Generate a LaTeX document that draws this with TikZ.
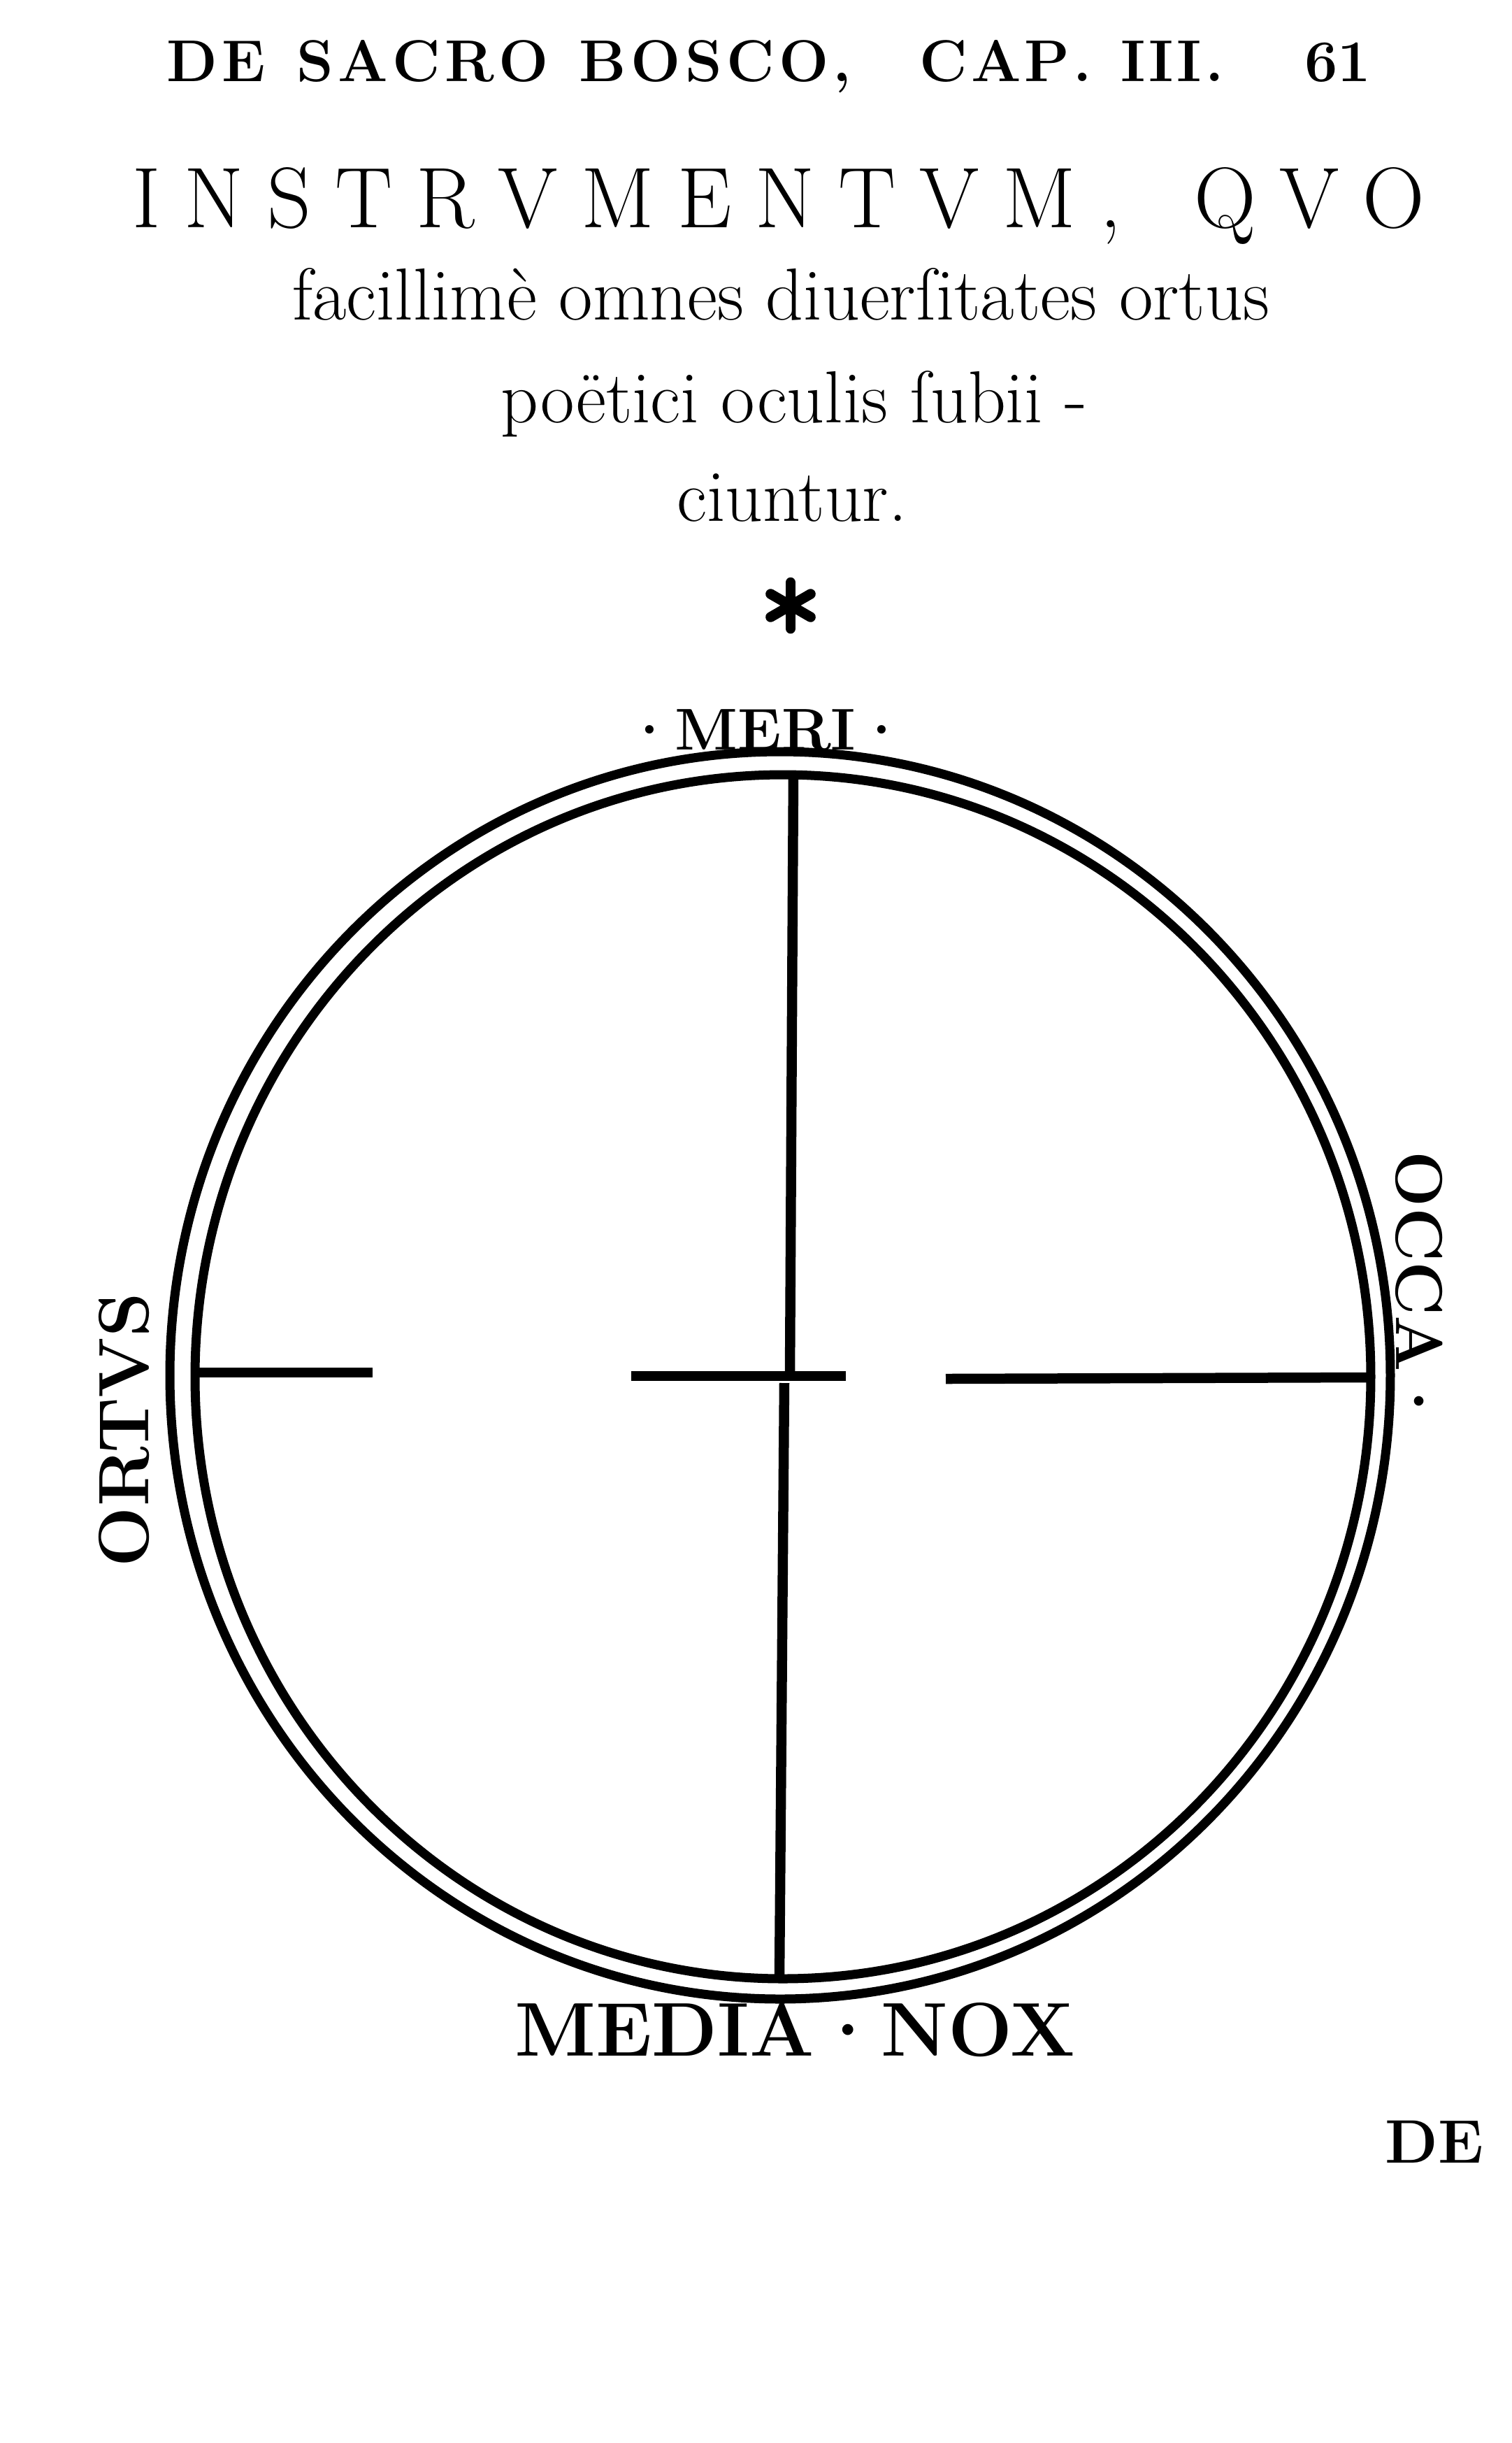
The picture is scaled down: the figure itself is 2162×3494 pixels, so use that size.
\documentclass[tikz,border=0pt]{standalone}
\usepackage{fontspec}
\usepackage{tikz}

% letter spacing by hand: \spread{kern}{text}, ~ for a space
\newdimen\spreadkern
\def\spreadloop#1{\ifx#1\relax\else#1\kern\spreadkern\expandafter\spreadloop\fi}
\newcommand{\spread}[2]{\spreadkern=#1\relax\spreadloop#2\relax\unkern}

\tikzset{
  rim/.style={line width=1.3mm},
  axis/.style={line width=1.45mm},
  head/.style={inner sep=0pt,font=\bfseries\fontsize{24}{24}\selectfont},
  caps/.style={inner sep=0pt,font=\fontsize{35}{35}\selectfont},
  lower/.style={inner sep=0pt,font=\fontsize{30}{30}\selectfont},
  lab/.style={inner sep=0pt,font=\bfseries\fontsize{26}{26}\selectfont}
}

\begin{document}
\begin{tikzpicture}[x=0.1mm,y=-0.1mm]
\fill[white](0,0)rectangle(2162,3494);
% running head
\node[head,anchor=base west](dsb)at(238,116){\spread{1.8pt}{DE~SACRO~BOSCO,}};
\node[head,anchor=base west](cap)at(1315,116){\spread{1.4pt}{CAP.~III.}};
\node[head,anchor=base east](folio)at(1962,116){61};
% title
\node[caps,anchor=base](t1)at(1114,325){\spread{9.6pt}{INSTRVMENTVM,~QVO}};
\node[lower,anchor=base](t2)at(1117,457){facillimè omnes diuerſitates ortus};
\node[lower,anchor=base](t3)at(1136,604){poëtici oculis ſubii -};
\node[lower,anchor=base](t4)at(1133,745){ciuntur.};
% star
\coordinate(star)at(1131,866);
\foreach \a in {30,90,...,330}
  \draw[axis,line cap=round](star)--++(\a:3.3mm);
% the two rims
\draw[rim](1116,1967)ellipse[x radius=87.3mm,y radius=89.2mm];
\draw[rim](1120,1969)ellipse[x radius=84.1mm,y radius=86.1mm];
% cross
\coordinate(c)at(1130,1968);
\coordinate(meri)at(1135,1108);
\coordinate(nox)at(1115,2830);
\coordinate(down)at(1122,1978);
\coordinate(ortus)at(280,1963);
\coordinate(o1)at(533,1963);
\coordinate(m1)at(903,1968);
\coordinate(m2)at(1210,1968);
\coordinate(a1)at(1353,1972);
\coordinate(occa)at(1955,1970);
\draw[axis](meri)--(c);
\draw[axis](down)--(nox);
\draw[axis](ortus)--(o1);
\draw[axis](m1)--(m2);
\draw[axis](a1)--(occa);
% labels
\node[lab,anchor=base,font=\bfseries\fontsize{24}{24}\selectfont](meril)at(1095,1072){·MERI·};
\node[lab,anchor=base,font=\bfseries\fontsize{31}{31}\selectfont](noxl)at(1137,2940){MEDIA·NOX};
\node[lab,rotate=90,font=\bfseries\fontsize{29}{29}\selectfont](ortusl)at(178,2045){ORTVS};
\node[lab,rotate=-90,font=\bfseries\fontsize{27}{27}\selectfont](occal)at(2030,1846){OCCA·};
\node[lab,font=\bfseries\fontsize{25}{25}\selectfont](catch)at(2052,3063){DE};
\end{tikzpicture}
\end{document}
